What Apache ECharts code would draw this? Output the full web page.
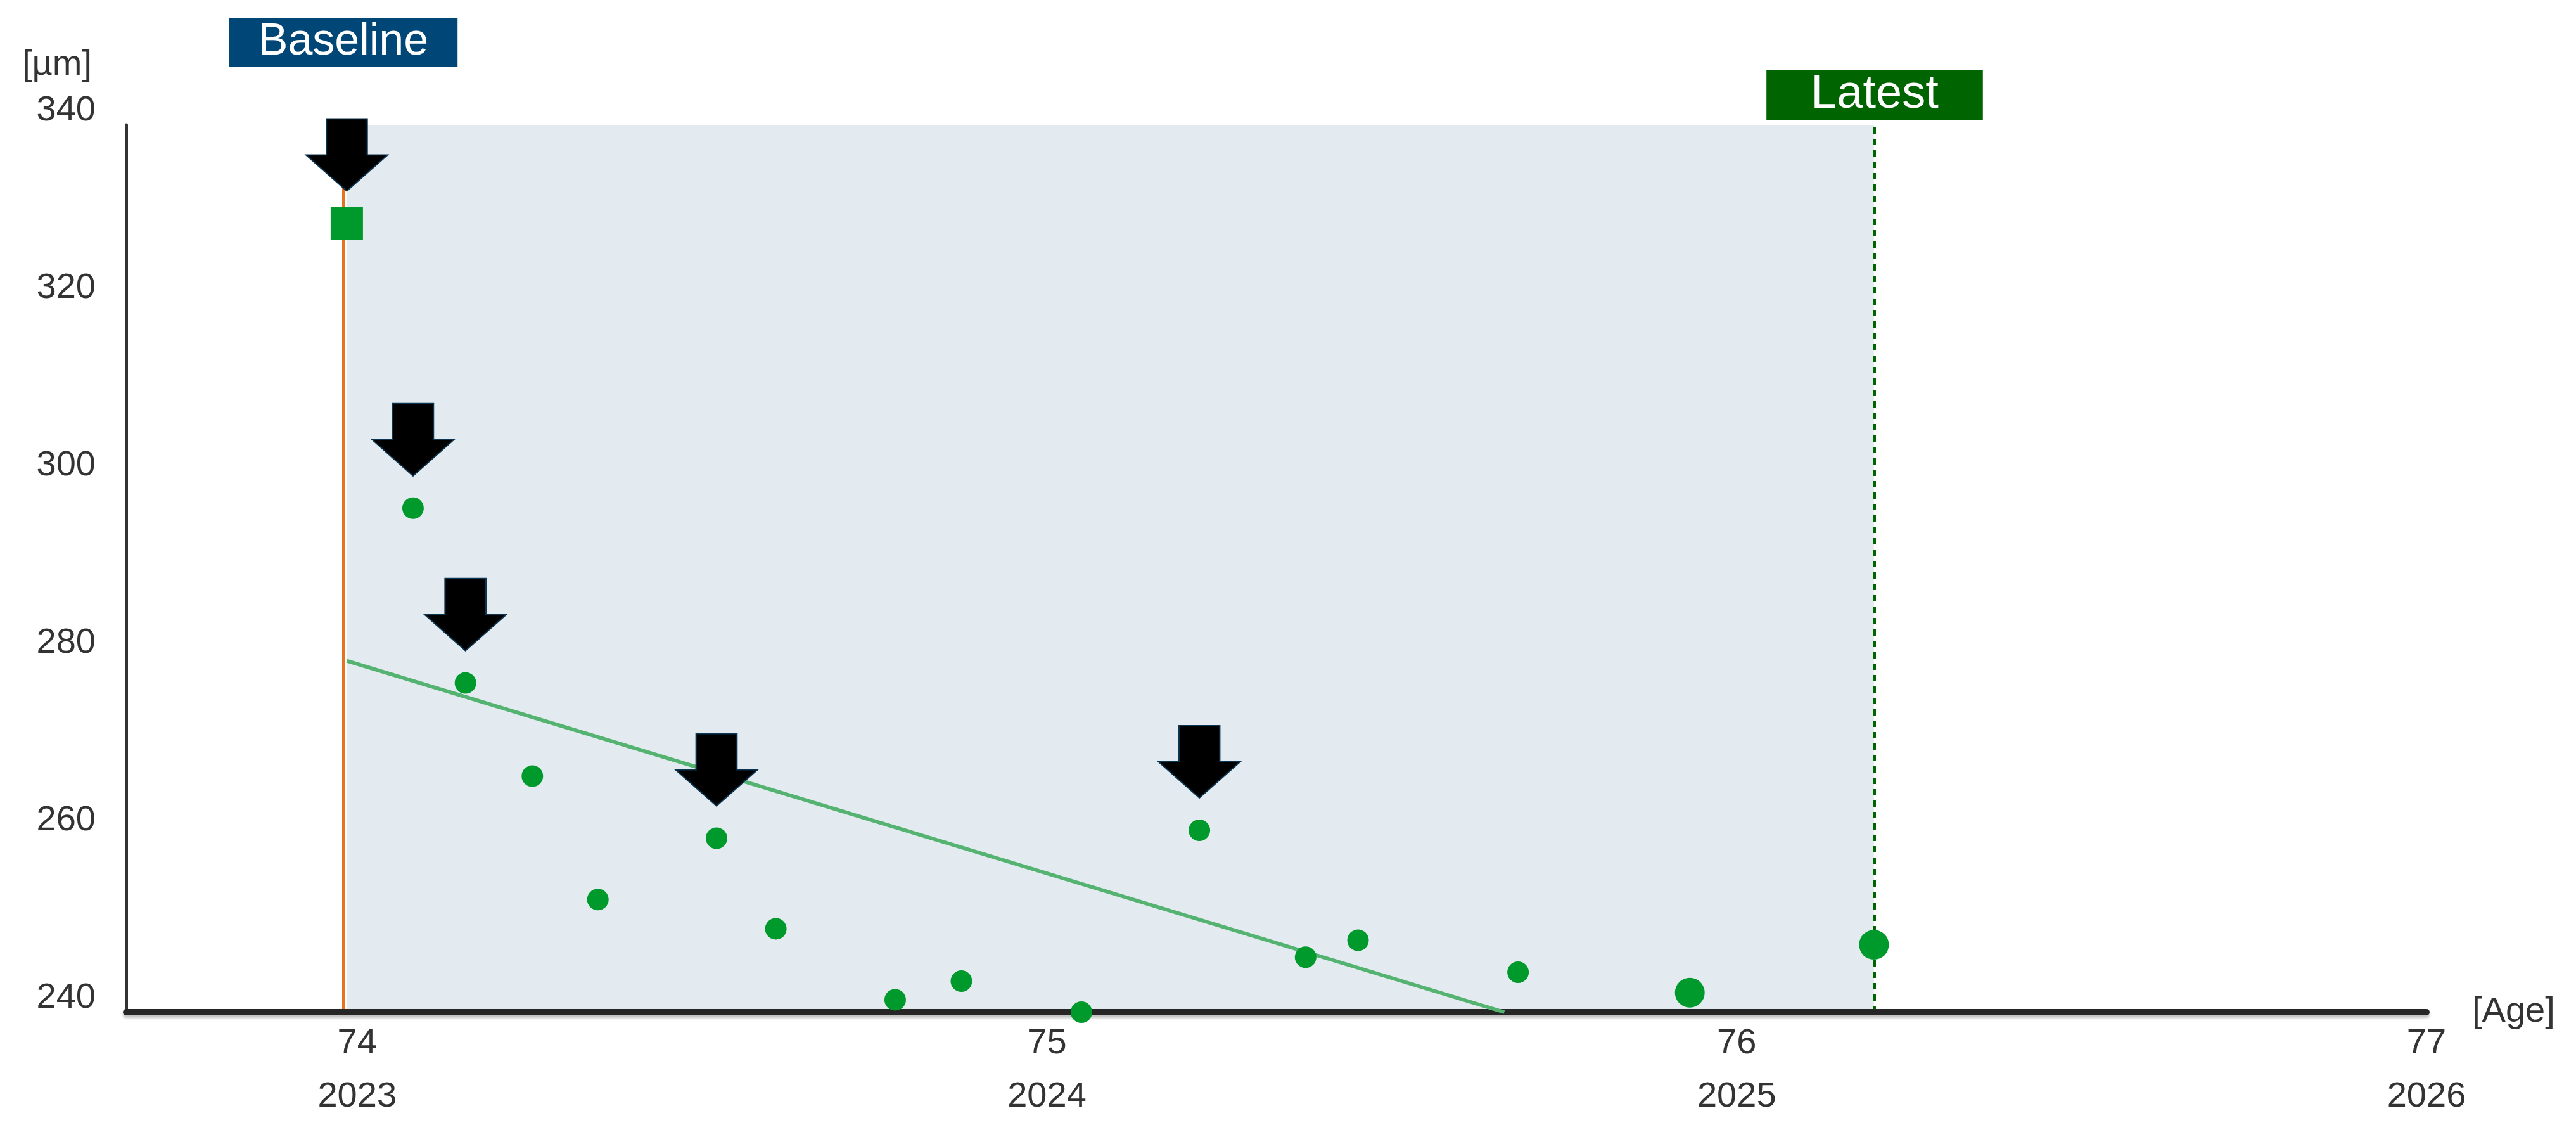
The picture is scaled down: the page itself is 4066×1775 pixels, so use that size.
<!DOCTYPE html>
<html>
<head>
<meta charset="utf-8">
<script src="https://cdn.jsdelivr.net/npm/echarts@6/dist/echarts.min.js"></script>
<style>
html,body{margin:0;padding:0;background:#ffffff;}
#chart{width:4066px;height:1775px;}
</style>
</head>
<body>
<div id="chart"></div>
<script>
// ---- data ----
const ages = [73.985, 74.081, 74.157, 74.254, 74.349, 74.521, 74.607, 74.780, 74.876, 75.050, 75.221, 75.375, 75.451, 75.683, 75.932, 76.199];
const thickness = [328.9, 296.8, 277.1, 266.6, 252.7, 259.6, 249.4, 241.4, 243.5, 240.0, 260.5, 246.2, 248.1, 244.5, 242.2, 247.6];
const injectionIndex = [0, 1, 2, 5, 10];
const largeIndex = [14, 15];
const trendAges = [73.985, 75.663];
const trendValues = [279.6, 240.0];
const ageTicks = [74, 75, 76, 77];
const yearTicks = ['2023', '2024', '2025', '2026'];
const yMin = 240, yMax = 340, yStep = 20;
const xMin = 73.665, xMax = 77;

const baselineAge = ages[0];
const latestAge = ages[ages.length - 1];

const FONT = "'Liberation Sans', Arial, sans-serif";
const GREEN = '#00992B';

const pointData = ages.map((a, i) => {
  const item = { value: [a, thickness[i]] };
  if (i === 0) { item.symbol = 'rect'; item.symbolSize = 51; }
  else if (largeIndex.includes(i)) { item.symbolSize = 47; }
  return item;
});

const arrowData = injectionIndex.map(i => [ages[i], thickness[i]]);
const trendData = trendAges.map((a, i) => [a, trendValues[i]]);

const chart = echarts.init(document.getElementById('chart'), null, { renderer: 'canvas' });
chart.setOption({
  animation: false,
  backgroundColor: '#ffffff',
  grid: { left: 199, right: 236, top: 197, bottom: 178, containLabel: false, outerBoundsMode: 'none' },
  xAxis: {
    type: 'value', min: xMin, max: xMax, z: 3,
    name: '[Age]', nameLocation: 'end', nameGap: 72,
    nameTextStyle: { fontFamily: FONT, fontSize: 56, color: '#333333', verticalAlign: 'middle', padding: [98, 0, 0, 0] },
    axisLine: { show: true, lineStyle: { color: '#262626', width: 10, shadowColor: 'rgba(0,0,0,0.25)', shadowBlur: 4, shadowOffsetY: 4 } },
    axisTick: { show: false },
    splitLine: { show: false },
    axisLabel: {
      customValues: ageTicks,
      margin: 8,
      formatter: function (v) {
        const k = ageTicks.indexOf(v);
        return '{a|' + v + '}\n{b|' + (k >= 0 ? yearTicks[k] : '') + '}';
      },
      rich: {
        a: { fontFamily: FONT, fontSize: 56, lineHeight: 84, color: '#333333' },
        b: { fontFamily: FONT, fontSize: 56, lineHeight: 84, color: '#333333' }
      }
    }
  },
  yAxis: {
    type: 'value', min: yMin, max: yMax, interval: yStep, z: 3,
    name: '[µm]', nameLocation: 'end', nameGap: 66,
    nameTextStyle: { fontFamily: FONT, fontSize: 56, color: '#333333', align: 'right', padding: [0, 54, 0, 0] },
    axisLine: { show: true, lineStyle: { color: '#333333', width: 5 } },
    axisTick: { show: false },
    splitLine: { show: false },
    axisLabel: { fontFamily: FONT, fontSize: 56, color: '#333333', margin: 48, verticalAlign: 'bottom', lineHeight: 44 }
  },
  series: [
    {
      name: 'trend', type: 'line', z: 4, data: trendData, symbol: 'none',
      lineStyle: { color: '#55B371', width: 6 },
      markArea: {
        silent: true, z: 1,
        itemStyle: { color: '#E4EBF0' },
        data: [[{ xAxis: baselineAge }, { xAxis: latestAge }]]
      },
      markLine: {
        silent: true, z: 2, symbol: ['none', 'none'],
        data: [
          {
            xAxis: baselineAge,
            lineStyle: { color: '#E8731E', width: 4, type: 'solid' },
            label: {
              show: true, position: 'end', distance: 92, formatter: 'Baseline',
              fontFamily: FONT, fontSize: 70, lineHeight: 76, color: '#ffffff',
              backgroundColor: '#004677', padding: [0, 46, 0, 46]
            }
          },
          {
            xAxis: latestAge,
            lineStyle: { color: '#006400', width: 4, type: [10, 8] },
            label: {
              show: true, position: 'end', distance: 8, formatter: 'Latest',
              fontFamily: FONT, fontSize: 74, lineHeight: 78, color: '#ffffff',
              backgroundColor: '#006400', padding: [0, 70, 0, 70]
            }
          }
        ]
      }
    },
    {
      name: 'thickness', type: 'scatter', z: 5, data: pointData,
      symbol: 'circle', symbolSize: 34,
      itemStyle: { color: GREEN, opacity: 1 }
    },
    {
      name: 'injection', type: 'scatter', z: 6, data: arrowData,
      symbol: 'path://M25,0 L75,0 L75,50 L100,50 L50,100 L0,50 L25,50 Z',
      symbolSize: [129, 114], symbolKeepAspect: false, symbolOffset: [0, -108],
      itemStyle: { color: '#000000', borderColor: '#0B3550', borderWidth: 2, opacity: 1 }
    }
  ]
});
</script>
</body>
</html>
